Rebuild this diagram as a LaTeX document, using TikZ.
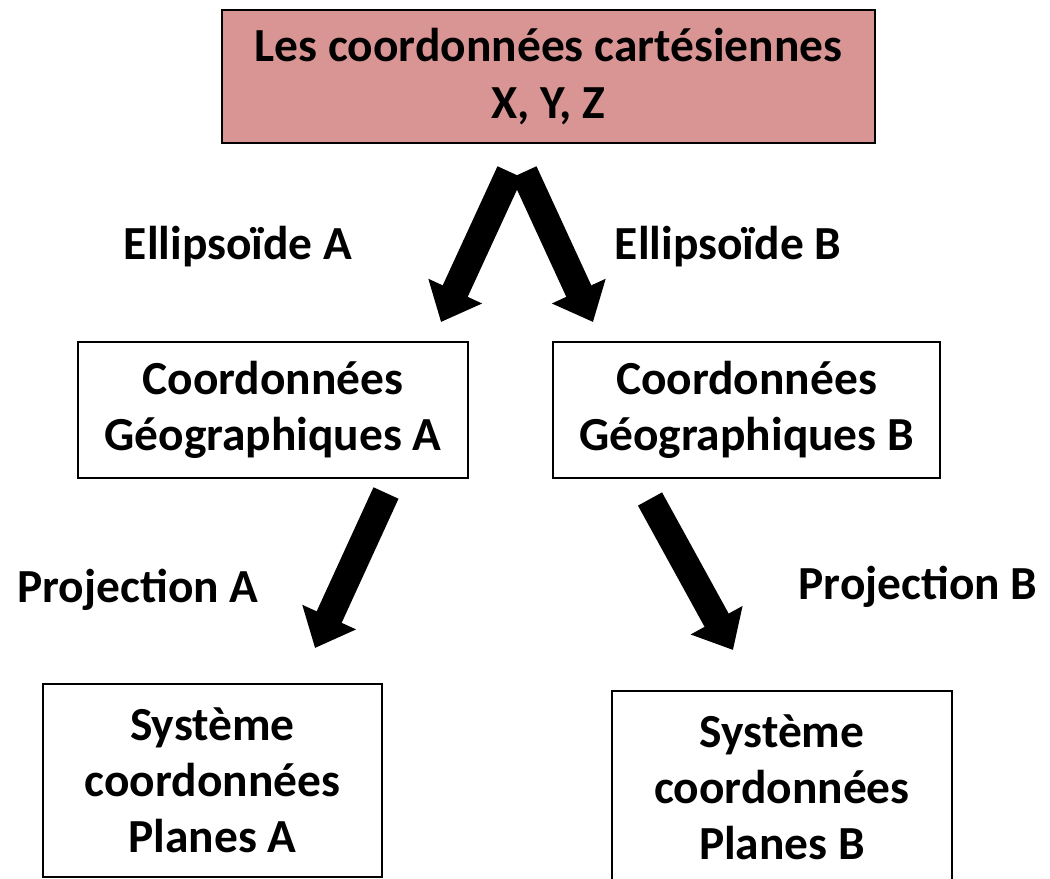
\documentclass[tikz,border=0pt]{standalone}
\usepackage{fontspec}
\setmainfont{Carlito}
\usetikzlibrary{arrows.meta}

\definecolor{rosebox}{HTML}{D99594}

\begin{document}
\begin{tikzpicture}[
		box/.style={draw, line width=1.1pt, align=center, font=\bfseries\fontsize{27}{32}\selectfont},
		lbl/.style={font=\bfseries\fontsize{27}{32}\selectfont},
		bigarrow/.style={line width=0.55cm, -{Triangle[width=1.14cm, length=0.68cm]}}
	]
			\useasboundingbox (0, 0) rectangle (21, -17.58);
			
			\node (cart) at (10.97, -1.53) [box, fill=rosebox, minimum width=13.06cm, minimum height=2.66cm] {Les coordonnées cartésiennes\\X, Y, Z};
			\node (geoA) at (5.46, -8.2) [box, minimum width=7.8cm, minimum height=2.72cm] {Coordonnées\\Géographiques A};
			\node (geoB) at (14.93, -8.2) [box, minimum width=7.74cm, minimum height=2.72cm] {Coordonnées\\Géographiques B};
			\node (planA) at (4.25, -15.61) [box, minimum width=6.78cm, minimum height=3.86cm] {Système\\coordonnées\\Planes A};
			\node (planB) at (15.64, -15.75) [box, minimum width=6.8cm, minimum height=3.86cm] {Système\\coordonnées\\Planes B};
			
			\node (ellA) at (4.76, -4.94) [lbl] {Ellipsoïde A};
			\node (ellB) at (14.56, -4.94) [lbl] {Ellipsoïde B};
			\node (projA) at (2.76, -11.8) [lbl] {Projection A};
			\node (projB) at (18.36, -11.74) [lbl] {Projection B};
			
			\coordinate (s1) at (10.2, -3.44);
			\coordinate (e1) at (8.82, -6.44);
			\coordinate (s2) at (10.48, -3.44);
			\coordinate (e2) at (11.86, -6.44);
			\coordinate (s3) at (7.72, -9.86);
			\coordinate (e3) at (6.3, -12.96);
			\coordinate (s4) at (13.0, -9.98);
			\coordinate (e4) at (14.66, -13.0);
			
			\draw[bigarrow] (s1) to (e1);
			\draw[bigarrow] (s2) to (e2);
			\draw[bigarrow] (s3) to (e3);
			\draw[bigarrow] (s4) to (e4);
		\end{tikzpicture}
\end{document}
